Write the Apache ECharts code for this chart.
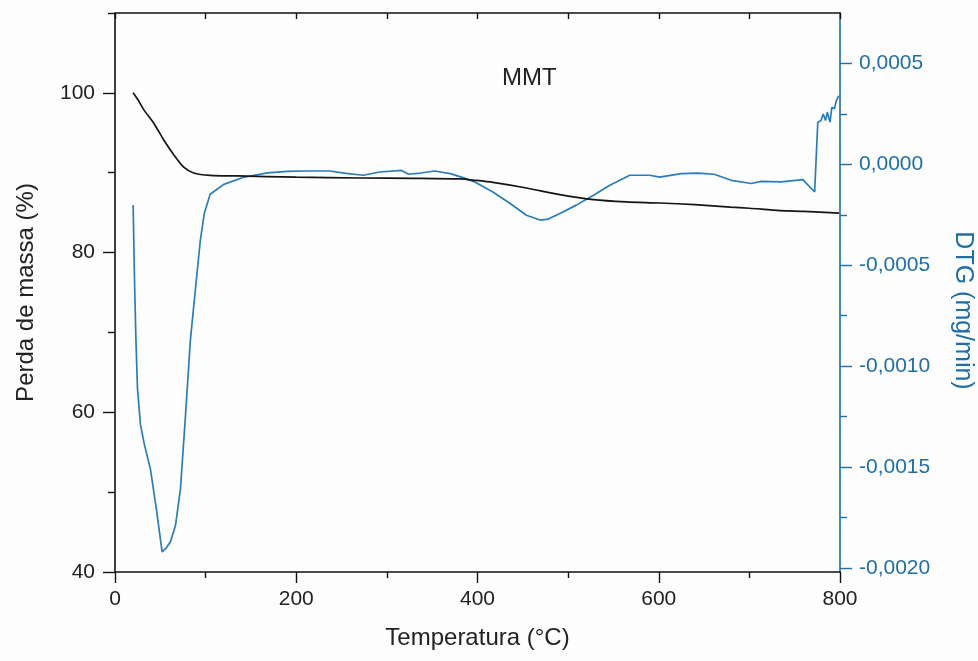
<!DOCTYPE html>
<html>
<head>
<meta charset="utf-8">
<script src="https://cdn.jsdelivr.net/npm/echarts@6/dist/echarts.min.js"></script>
<style>
  html, body { margin: 0; padding: 0; background: #fdfdfd; }
  #chart { width: 978px; height: 661px; }
</style>
</head>
<body>
<div id="chart"></div>
<script>
// TGA curve (mass %, left axis)
const tgaTemp = [20, 26.3, 31.7, 42.8, 53.8, 64.8, 75.8, 86.8, 105, 135, 200, 270, 330, 381, 397, 417, 454, 491, 528, 564, 601, 640, 679, 700, 734, 760, 799];
const tgaMass = [100, 98.95, 97.9, 96.2, 94.1, 92.26, 90.7, 89.97, 89.67, 89.6, 89.45, 89.34, 89.3, 89.22, 89.05, 88.79, 88.09, 87.25, 86.62, 86.34, 86.21, 86.0, 85.7, 85.55, 85.25, 85.15, 84.95];

// DTG curve (mg/min, right axis)
const dtgTemp = [20, 21.5, 23.1, 24.8, 28.1, 32.5, 39.1, 45.7, 52, 56.7, 61.2, 66.7, 72.2, 77.7, 83.2, 88.7, 94.2, 98.6, 105, 120, 142, 168, 190, 210, 237, 255, 274, 292, 316, 324, 337, 353, 370, 384, 397, 417, 436, 454, 469, 478, 491, 509, 528, 546, 568, 590, 601, 625, 643, 661, 680, 702, 713, 735, 759, 772, 775.5, 779, 781.5, 784, 786, 789, 791, 793.7, 796, 798.5];
const dtgVal = [-0.000202, -0.00057, -0.00087, -0.00111, -0.00129, -0.00139, -0.00151, -0.00171, -0.00192, -0.0019, -0.00187, -0.00179, -0.00161, -0.00125, -0.00087, -0.00062, -0.000375, -0.000242, -0.000148, -0.000099, -0.000064, -0.000042, -0.000035, -0.000033, -0.000033, -0.000045, -0.000054, -0.000038, -0.00003, -0.000049, -0.000043, -0.000033, -0.000046, -0.000066, -0.000087, -0.000137, -0.000194, -0.000252, -0.000276, -0.000271, -0.000243, -0.000202, -0.000153, -0.000104, -0.000054, -0.000054, -0.000063, -0.000046, -0.000043, -0.000049, -0.000079, -0.000095, -0.000084, -0.000087, -0.000076, -0.000137, 0.000209, 0.000217, 0.00025, 0.000217, 0.000258, 0.000209, 0.000283, 0.000275, 0.000316, 0.00034];

// tick positions
const massTicks = [40, 60, 80, 100];
const massMinor = [50, 70, 90, 110];
const dtgTicks = [-0.002, -0.0015, -0.001, -0.0005, 0, 0.0005];
const dtgMinor = [-0.00175, -0.00125, -0.00075, -0.00025, 0.00025];

const FONT = "'Liberation Sans', Arial, sans-serif";
const BLUE = "#2a7db8";
const BLUE_AXIS = "#1f6ea8";
const DTG_MIN = -0.00202;
const DTG_MAX = 0.00075;

const zip = (xs, ys) => xs.map((x, i) => [x, ys[i]]);

const chart = echarts.init(document.getElementById("chart"));

chart.setOption({
  backgroundColor: "#fdfdfd",
  animation: false,
  textStyle: { fontFamily: FONT },
  title: {
    text: "MMT",
    left: 497,
    top: 61,
    textStyle: { fontFamily: FONT, fontSize: 24, fontWeight: "normal", color: "#222" },
  },
  grid: { left: 115, right: 138, top: 13, bottom: 89, outerBoundsMode: "none" },
  xAxis: [
    {
      type: "value",
      position: "bottom",
      min: 0,
      max: 800,
      interval: 200,
      name: "Temperatura (\u00b0C)",
      nameLocation: "middle",
      nameGap: 54,
      nameTextStyle: { fontFamily: FONT, fontSize: 24, color: "#222" },
      axisLine: { onZero: false, lineStyle: { color: "#111", width: 1.6 } },
      axisTick: { length: 11, lineStyle: { color: "#111", width: 1.4 } },
      minorTick: { show: true, splitNumber: 2, length: 6, lineStyle: { color: "#111", width: 1.4 } },
      axisLabel: { fontFamily: FONT, fontSize: 21, color: "#222", margin: 17 },
      splitLine: { show: false },
    },
    {
      type: "value",
      position: "top",
      min: 0,
      max: 800,
      interval: 100,
      axisLine: { onZero: false, lineStyle: { color: "#111", width: 1.6 } },
      axisTick: { inside: true, length: 6, lineStyle: { color: "#111", width: 1.4 } },
      axisLabel: { show: false },
      splitLine: { show: false },
    },
  ],
  yAxis: [
    {
      type: "value",
      position: "left",
      min: 40,
      max: 110,
      name: "Perda de massa (%)",
      nameLocation: "middle",
      nameRotate: 90,
      nameGap: 77,
      nameTextStyle: { fontFamily: FONT, fontSize: 24, color: "#222" },
      axisLine: { show: true, onZero: false, lineStyle: { color: "#111", width: 1.6 } },
      axisTick: { show: true, length: 12, customValues: massTicks, lineStyle: { color: "#111", width: 1.4 } },
      axisLabel: { fontFamily: FONT, fontSize: 21, color: "#222", margin: 20, customValues: massTicks },
      splitLine: { show: false },
    },
    {
      type: "value",
      position: "right",
      min: DTG_MIN,
      max: DTG_MAX,
      name: "DTG (mg/min)",
      nameLocation: "middle",
      nameRotate: -90,
      nameGap: 110,
      nameTextStyle: { fontFamily: FONT, fontSize: 25, color: BLUE_AXIS, padding: [0, 0, 0, 36] },
      axisLine: { show: true, onZero: false, lineStyle: { color: BLUE_AXIS, width: 1.6 } },
      axisTick: { show: true, length: 12, customValues: dtgTicks, lineStyle: { color: BLUE_AXIS, width: 1.4 } },
      axisLabel: {
        fontFamily: FONT,
        fontSize: 21,
        color: BLUE_AXIS,
        margin: 19,
        customValues: dtgTicks,
        formatter: (v) => v.toFixed(4).replace(".", ","),
      },
      splitLine: { show: false },
    },
    {
      // minor ticks of the mass axis
      type: "value",
      position: "left",
      min: 40,
      max: 110,
      axisLine: { show: false, onZero: false },
      axisTick: { show: true, length: 7, customValues: massMinor, lineStyle: { color: "#111", width: 1.4 } },
      axisLabel: { show: false },
      splitLine: { show: false },
    },
    {
      // minor ticks of the DTG axis
      type: "value",
      position: "right",
      min: DTG_MIN,
      max: DTG_MAX,
      axisLine: { show: false, onZero: false },
      axisTick: { show: true, length: 7, customValues: dtgMinor, lineStyle: { color: BLUE_AXIS, width: 1.4 } },
      axisLabel: { show: false },
      splitLine: { show: false },
    },
  ],
  series: [
    {
      name: "TGA",
      type: "line",
      xAxisIndex: 0,
      yAxisIndex: 0,
      data: zip(tgaTemp, tgaMass),
      showSymbol: false,
      smooth: 0.25,
      lineStyle: { color: "#151515", width: 1.7 },
      z: 3,
    },
    {
      name: "DTG",
      type: "line",
      xAxisIndex: 0,
      yAxisIndex: 1,
      data: zip(dtgTemp, dtgVal),
      showSymbol: false,
      lineStyle: { color: BLUE, width: 1.7 },
      z: 2,
    },
  ],
});
</script>
</body>
</html>
